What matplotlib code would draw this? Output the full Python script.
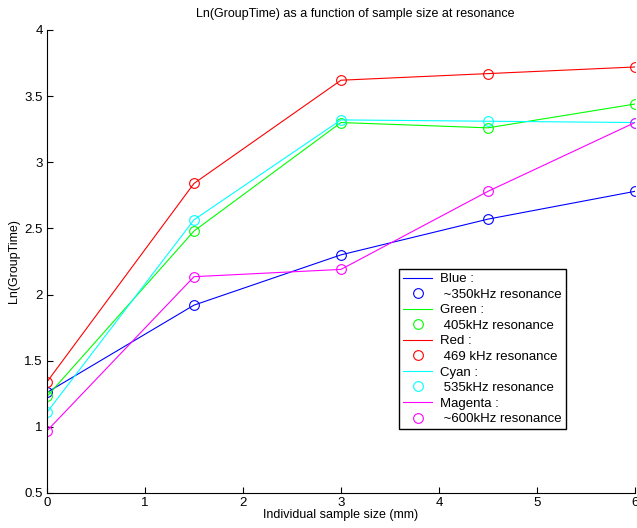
import numpy as np
import matplotlib.pyplot as plt

plt.rcParams['font.family'] = ['Liberation Sans', 'DejaVu Sans']

# sample sizes (mm)
sizes = [0, 1.5, 3, 4.5, 6]

# Ln(GroupTime) per resonance
blue = [1.26, 1.92, 2.30, 2.57, 2.78]
green = [1.23, 2.48, 3.30, 3.26, 3.44]
red = [1.34, 2.84, 3.62, 3.67, 3.72]
cyan = [1.11, 2.565, 3.32, 3.31, 3.30]
magenta = [0.97, 2.135, 2.19, 2.78, 3.30]

series = [
    (blue, '#0000ff', 'Blue :', ' ~350kHz resonance'),
    (green, '#00ff00', 'Green :', ' 405kHz resonance'),
    (red, '#ff0000', 'Red :', ' 469 kHz resonance'),
    (cyan, '#00ffff', 'Cyan :', ' 535kHz resonance'),
    (magenta, '#ff00ff', 'Magenta :', ' ~600kHz resonance'),
]

fig = plt.figure(figsize=(6.37, 5.28), dpi=100)
ax = fig.add_axes([0.0738, 0.0663, 0.923, 0.877])

for vals, col, name, desc in series:
    ax.plot(sizes, vals, '-', color=col, lw=0.8, label=name)
    ax.plot(sizes, vals, 'o', color=col, mfc='none', ms=7, mew=0.8, label=desc)

ax.set_xlim(0, 6)
ax.set_ylim(0.5, 4)
ax.set_xticks([0, 1, 2, 3, 4, 5, 6])
ax.set_yticks([0.5, 1, 1.5, 2, 2.5, 3, 3.5, 4])
ax.set_yticklabels(['0.5', '1', '1.5', '2', '2.5', '3', '3.5', '4'])
ax.tick_params(direction='in', length=4, width=0.8, labelsize=9.5, pad=3)
for s in ['top', 'right']:
    ax.spines[s].set_visible(False)
for s in ['left', 'bottom']:
    ax.spines[s].set_linewidth(0.8)

ax.set_title('Ln(GroupTime) as a function of sample size at resonance', fontsize=9, pad=9, x=0.525)
ax.set_xlabel('Individual sample size (mm)', fontsize=9, labelpad=0)
ax.set_ylabel('Ln(GroupTime)', fontsize=9, labelpad=3)

leg = ax.legend(loc='lower left', bbox_to_anchor=(0.599, 0.138), fontsize=9.5,
                fancybox=False, edgecolor='k', framealpha=1, labelspacing=0.25,
                handlelength=2.2, handletextpad=0.6, borderpad=0.3, borderaxespad=0)
leg.get_frame().set_linewidth(1.0)

fig.savefig('out.png', dpi=100)
